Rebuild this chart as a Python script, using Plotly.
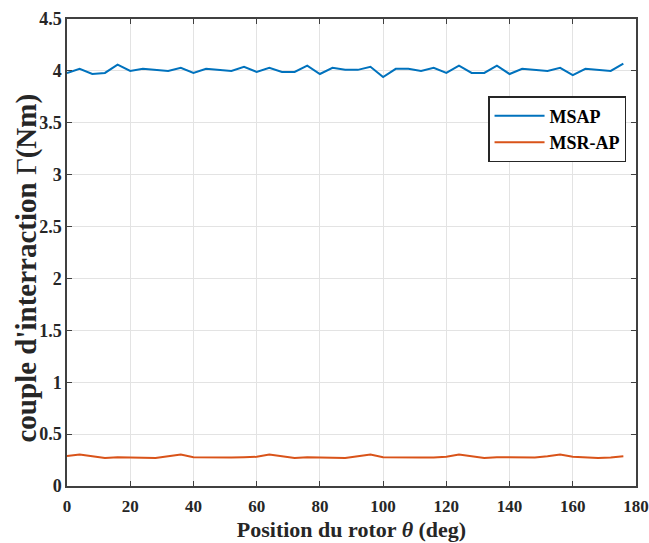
import plotly.graph_objects as go

theta = list(range(0, 180, 4))
msap = [3.98, 4.02, 3.97, 3.98, 4.06, 4.00, 4.02, 4.01, 4.00, 4.03,
        3.98, 4.02, 4.01, 4.00, 4.04, 3.99, 4.03, 3.99, 3.99, 4.05,
        3.97, 4.03, 4.01, 4.01, 4.04, 3.94, 4.02, 4.02, 4.00, 4.03,
        3.98, 4.05, 3.98, 3.98, 4.05, 3.97, 4.02, 4.01, 4.00, 4.03,
        3.96, 4.02, 4.01, 4.00, 4.07]
msrap = [0.29, 0.303, 0.287, 0.271, 0.277, 0.274, 0.277, 0.271, 0.287, 0.303,
         0.277, 0.274, 0.274, 0.274, 0.277, 0.281, 0.303, 0.284, 0.271, 0.277,
         0.274, 0.277, 0.271, 0.287, 0.303, 0.277, 0.274, 0.271, 0.274, 0.274,
         0.281, 0.303, 0.287, 0.271, 0.277, 0.274, 0.277, 0.274, 0.287, 0.303,
         0.281, 0.274, 0.271, 0.274, 0.287]

xticks = list(range(0, 181, 20))
yticks = [0, 0.5, 1, 1.5, 2, 2.5, 3, 3.5, 4, 4.5]

font = "Liberation Serif, Times New Roman, serif"

fig = go.Figure()
fig.add_trace(go.Scatter(x=theta, y=msap, mode="lines", name="<b>MSAP</b>",
                         line=dict(color="#0072BD", width=2)))
fig.add_trace(go.Scatter(x=theta, y=msrap, mode="lines", name="<b>MSR-AP</b>",
                         line=dict(color="#D95319", width=2)))

axis_common = dict(showgrid=True, gridcolor="#e3e3e3", gridwidth=1,
                   showline=True, linecolor="#404040", linewidth=1.5, mirror="ticks",
                   ticks="inside", ticklen=5, tickcolor="#404040", zeroline=False,
                   automargin=False, ticklabeloverflow="allow")

fig.update_layout(
    width=649, height=543,
    margin=dict(l=67, r=13, t=19, b=57),
    plot_bgcolor="white", paper_bgcolor="white",
    font=dict(family=font),
    xaxis=dict(range=[0, 180], tickvals=xticks, ticktext=[f"<b>{v}</b>" for v in xticks],
               ticklabelstandoff=4,
               tickfont=dict(family=font, size=17, color="#262626"),
               title=dict(text="<b>Position du rotor <i>θ</i> (deg)</b>",
                          font=dict(family=font, size=22, color="#262626"), standoff=6),
               **axis_common),
    yaxis=dict(range=[0, 4.5], tickvals=yticks, ticktext=[f"<b>{v:g}</b>" for v in yticks],
               tickfont=dict(family=font, size=18, color="#262626"),
               **axis_common),
    legend=dict(x=0.9825, y=0.835, xanchor="right", yanchor="top",
                bgcolor="white", bordercolor="#262626", borderwidth=1.5,
                font=dict(family=font, size=18, color="black"),
                tracegroupgap=0, itemwidth=50),
    showlegend=True,
)
fig.add_annotation(text="<b>couple d'interraction </b>Γ<b>(Nm)</b>",
                   xref="paper", yref="paper", x=0, y=0.5, xshift=-41, yshift=-16,
                   textangle=-90, showarrow=False, xanchor="center", yanchor="middle",
                   font=dict(family=font, size=29, color="#262626"))

fig.write_html("out.html")
